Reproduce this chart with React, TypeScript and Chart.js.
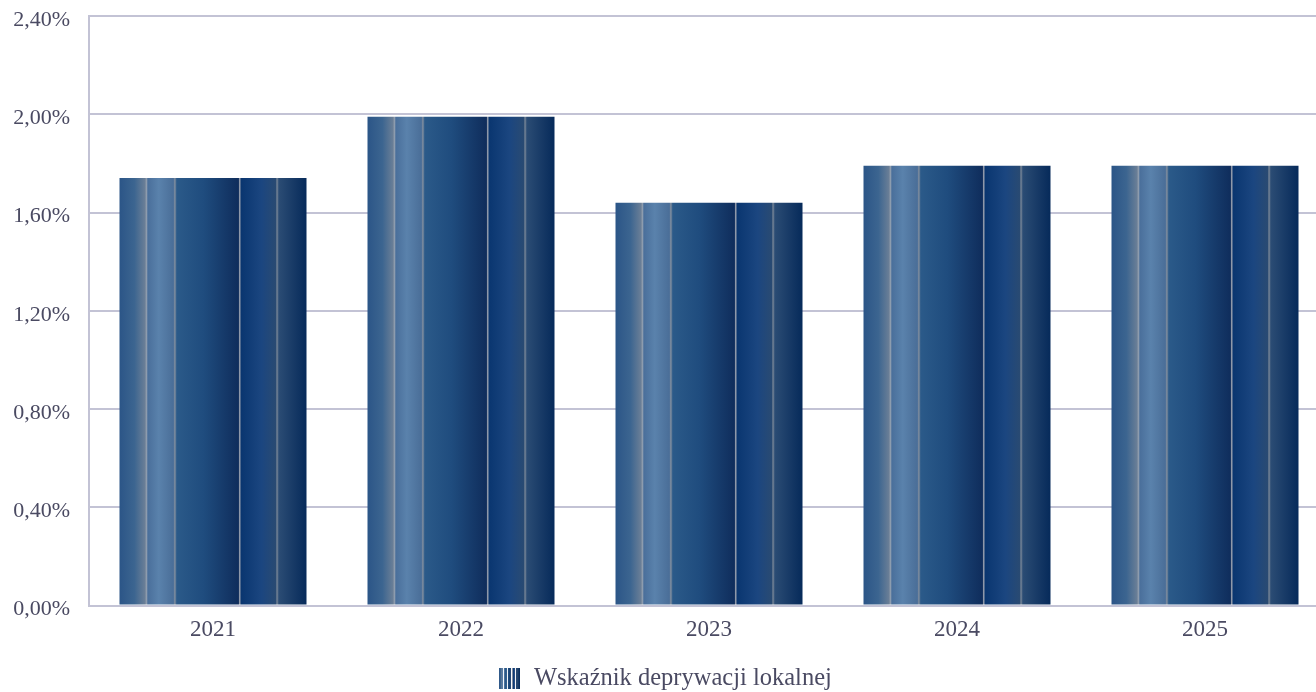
import React, { useEffect, useRef } from "react";
import { Chart, registerables } from "chart.js";

Chart.register(...registerables);

const categories = ["2021", "2022", "2023", "2024", "2025"];
const seriesName = "Wskaźnik deprywacji lokalnej";
const values = [1.74, 1.99, 1.64, 1.79, 1.79];
const yTicks = { min: 0, max: 2.4, step: 0.4 };

const TEXT = "#4a4a62";
const GRID = "#c3c3d5";
const FONT = "'Liberation Serif', 'Times New Roman', serif";

const stops: [number, string][] = [
  [0, "#2b5587"],
  [0.08, "#3c6590"],
  [0.138, "#6b7f97"],
  [0.142, "#a2aab4"],
  [0.152, "#4a6f9b"],
  [0.21, "#5a82ac"],
  [0.288, "#4a6e98"],
  [0.296, "#838f9e"],
  [0.306, "#2b5a89"],
  [0.45, "#1f4c7e"],
  [0.636, "#0f2d5c"],
  [0.642, "#959dac"],
  [0.652, "#0a3670"],
  [0.76, "#1b4680"],
  [0.836, "#294a72"],
  [0.842, "#7c8999"],
  [0.852, "#2b4c74"],
  [1, "#062a5a"],
];

function makeIcon(): HTMLCanvasElement {
  const c = document.createElement("canvas");
  c.width = 21;
  c.height = 21;
  const g = c.getContext("2d")!;
  const grad = g.createLinearGradient(0, 0, 21, 0);
  stops.forEach(([p, col]) => grad.addColorStop(p, col));
  g.fillStyle = grad;
  g.fillRect(0, 0, 21, 21);
  g.fillStyle = "#ffffff";
  [4, 8, 12, 16].forEach((x) => g.fillRect(x, 0, 1, 21));
  return c;
}

export default function App() {
  const ref = useRef<HTMLCanvasElement | null>(null);

  useEffect(() => {
    if (!ref.current) return;
    const icon = makeIcon();
    const barFrac = 187 / 248;
    const chart = new Chart(ref.current, {
      type: "bar",
      data: {
        labels: categories,
        datasets: [
          {
            label: seriesName,
            data: values,
            categoryPercentage: 1,
            barPercentage: barFrac,
            borderWidth: 0,
            pointStyle: icon as any,
            backgroundColor: (ctx: any) => {
              const ch = ctx.chart;
              const xs = ch.scales?.x;
              if (ctx.type !== "data" || !xs) return "#1f4c7e";
              const cx = xs.getPixelForValue(ctx.dataIndex);
              const step = xs.getPixelForValue(1) - xs.getPixelForValue(0);
              const w = step * barFrac;
              if (!isFinite(cx) || !isFinite(w) || w <= 0) return "#1f4c7e";
              const x0 = cx - w / 2;
              const grad = ch.ctx.createLinearGradient(x0, 0, x0 + w, 0);
              stops.forEach(([p, col]) => grad.addColorStop(p, col));
              return grad;
            },
          },
        ],
      },
      options: {
        animation: false,
        responsive: false,
        maintainAspectRatio: false,
        layout: { padding: { top: 16, right: 7, left: 0, bottom: 0 } },
        plugins: {
          tooltip: { enabled: false },
          legend: {
            position: "bottom",
            labels: {
              usePointStyle: true,
              color: TEXT,
              font: { family: FONT, size: 24.5 },
              padding: 0,
            },
          },
        },
        scales: {
          x: {
            afterFit: (s: any) => {
              s.height = 61;
            },
            grid: { display: false, drawTicks: false },
            border: { display: false },
            ticks: {
              color: TEXT,
              font: { family: FONT, size: 23 },
              padding: 11,
              maxRotation: 0,
            },
          },
          y: {
            min: yTicks.min,
            max: yTicks.max,
            afterFit: (s: any) => {
              s.width = 89;
              s.paddingTop = 0;
              s.paddingBottom = 0;
            },
            grid: { color: GRID, lineWidth: 2, drawTicks: false },
            border: { display: true, color: GRID, width: 2 },
            ticks: {
              stepSize: yTicks.step,
              color: TEXT,
              font: { family: FONT, size: 22 },
              padding: 19,
              labelOffset: 4,
              callback: (v: any) => Number(v).toFixed(2).replace(".", ",") + "%",
            },
          },
        },
      },
    });
    return () => chart.destroy();
  }, []);

  return (
    <div
      style={{
        position: "fixed",
        left: 0,
        top: 0,
        width: 1316,
        height: 692,
        overflow: "hidden",
        background: "#fff",
      }}
    >
      <canvas ref={ref} width={1336} height={701} style={{ display: "block" }} />
    </div>
  );
}
